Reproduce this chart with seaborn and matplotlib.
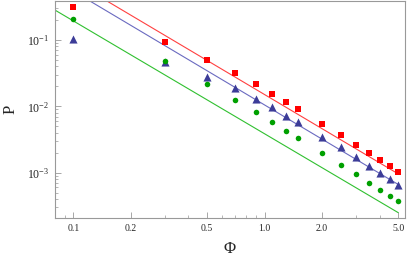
import numpy as np
import pandas as pd
import matplotlib
matplotlib.use("Agg")
import matplotlib.pyplot as plt
import seaborn as sns
from matplotlib.ticker import LogLocator, FixedLocator, FixedFormatter, NullFormatter

# -------------------------------
# data
# -------------------------------
phi = [0.1, 0.3, 0.5, 0.7, 0.9, 1.1, 1.3, 1.5, 2.0, 2.5, 3.0, 3.5, 4.0, 4.5, 5.0]
p_red = [0.311, 0.094, 0.050, 0.0315, 0.0215, 0.0152, 0.0116, 0.0090,
         0.0055, 0.0037, 0.00264, 0.00198, 0.00157, 0.00126, 0.00102]
p_blue = [0.103, 0.047, 0.028, 0.0187, 0.0129, 0.0097, 0.0072, 0.0058,
          0.0035, 0.0024, 0.00172, 0.00127, 0.00100, 0.00080, 0.00066]
p_green = [0.207, 0.048, 0.0215, 0.0124, 0.0082, 0.0058, 0.0043, 0.0033,
           0.0020, 0.00131, 0.00095, 0.00071, 0.00055, 0.00044, 0.00037]

# straight power-law guides (end points)
fit_x = [0.08, 5.0]
fit_red = [1.135, 0.00096]
fit_blue = [0.80, 0.000665]
fit_green = [0.284, 0.00025]

x_ticks = [0.1, 0.2, 0.5, 1.0, 2.0, 5.0]
x_labels = ["0.1", "0.2", "0.5", "1.0", "2.0", "5.0"]

# -------------------------------
# style
# -------------------------------
sns.set_style("ticks")
plt.rcParams['font.family'] = ['Liberation Serif', 'DejaVu Serif']
plt.rcParams['mathtext.fontset'] = 'stix'

fig = plt.figure(figsize=(4.07, 2.56), dpi=100)
ax = fig.add_axes([0.135, 0.148, 0.86, 0.848])

sns.lineplot(x=fit_x, y=fit_red, color="#ff4040", lw=0.8, ax=ax)
sns.lineplot(x=fit_x, y=fit_blue, color="#6a6ac0", lw=0.8, ax=ax)
sns.lineplot(x=fit_x, y=fit_green, color="#30c030", lw=0.8, ax=ax)

sns.scatterplot(x=phi, y=p_red, marker="s", color="#ff0000", s=22,
                linewidth=0, ax=ax, zorder=3)
sns.scatterplot(x=phi, y=p_blue, marker="^", color="#3c3c98", s=34,
                linewidth=0, ax=ax, zorder=3)
sns.scatterplot(x=phi, y=p_green, marker="o", color="#00a000", s=16,
                linewidth=0, ax=ax, zorder=3)

ax.set_xscale("log")
ax.set_yscale("log")
ax.set_xlim(0.0802, 5.42)
ax.set_ylim(2.07e-4, 0.387)

ax.xaxis.set_major_locator(FixedLocator(x_ticks))
ax.xaxis.set_major_formatter(FixedFormatter(x_labels))
ax.xaxis.set_minor_locator(LogLocator(base=10, subs=np.arange(2, 10)))
ax.xaxis.set_minor_formatter(NullFormatter())
ax.yaxis.set_major_locator(LogLocator(base=10))
ax.yaxis.set_minor_locator(LogLocator(base=10, subs=np.arange(2, 10)))
ax.yaxis.set_minor_formatter(NullFormatter())

for s in ax.spines.values():
    s.set_color("#999999")
    s.set_linewidth(0.8)
ax.tick_params(which="both", direction="in", color="#999999",
               top=False, right=False, labelsize=8.5, pad=4)
ax.tick_params(which="major", length=4, width=0.6)
ax.tick_params(which="minor", length=2, width=0.5)
ax.tick_params(axis="x", labelsize=7)

ax.set_xlabel("Φ", fontsize=12, labelpad=6)
ax.set_ylabel("P", fontsize=12, labelpad=6)

fig.savefig("out.png", dpi=100)
